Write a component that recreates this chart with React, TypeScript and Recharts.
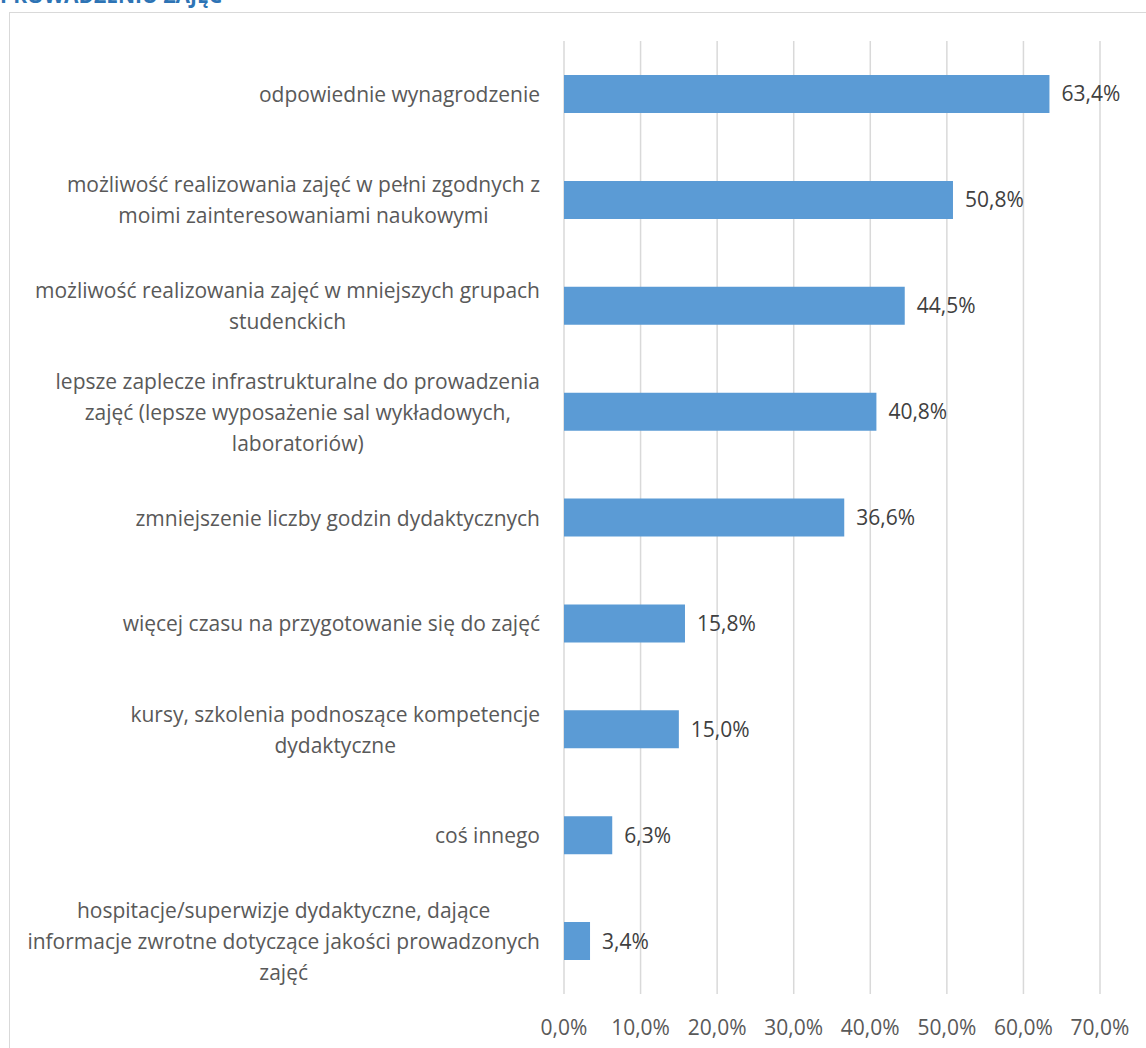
import { BarChart, Bar, XAxis, YAxis, CartesianGrid, LabelList } from 'recharts';

const categories = [
  'odpowiednie wynagrodzenie',
  'możliwość realizowania zajęć w pełni zgodnych z moimi zainteresowaniami naukowymi',
  'możliwość realizowania zajęć w mniejszych grupach studenckich',
  'lepsze zaplecze infrastrukturalne do prowadzenia zajęć (lepsze wyposażenie sal wykładowych, laboratoriów)',
  'zmniejszenie liczby godzin dydaktycznych',
  'więcej czasu na przygotowanie się do zajęć',
  'kursy, szkolenia podnoszące kompetencje dydaktyczne',
  'coś innego',
  'hospitacje/superwizje dydaktyczne, dające informacje zwrotne dotyczące jakości prowadzonych zajęć',
];

// how each category label is broken into lines
const categoryLines = [
  ['odpowiednie wynagrodzenie'],
  ['możliwość realizowania zajęć w pełni zgodnych z', 'moimi zainteresowaniami naukowymi'],
  ['możliwość realizowania zajęć w mniejszych grupach', 'studenckich'],
  ['lepsze zaplecze infrastrukturalne do prowadzenia', 'zajęć (lepsze wyposażenie sal wykładowych,', 'laboratoriów)'],
  ['zmniejszenie liczby godzin dydaktycznych'],
  ['więcej czasu na przygotowanie się do zajęć'],
  ['kursy, szkolenia podnoszące kompetencje', 'dydaktyczne'],
  ['coś innego'],
  ['hospitacje/superwizje dydaktyczne, dające', 'informacje zwrotne dotyczące jakości prowadzonych', 'zajęć'],
];

const values = [63.4, 50.8, 44.5, 40.8, 36.6, 15.8, 15.0, 6.3, 3.4];

const xTicks = [0, 10, 20, 30, 40, 50, 60, 70];

const FONT = '"Open Sans", "Noto Sans", sans-serif';
const FONT_SIZE = 21;
const LINE_H = 31;

const data = categories.map((name, i) => ({ name, value: values[i] }));

const fmt = (v: number) => `${v.toFixed(1).replace('.', ',')}%`;

let ctx: CanvasRenderingContext2D | null = null;
function measure(text: string): number {
  if (!ctx) ctx = document.createElement('canvas').getContext('2d');
  if (!ctx) return text.length * 10;
  ctx.font = `${FONT_SIZE}px ${FONT}`;
  return ctx.measureText(text).width;
}

function CategoryTick(props: any) {
  const { x, y, payload } = props;
  const idx = categories.indexOf(payload.value);
  const lines = categoryLines[idx] || [payload.value];
  const widest = Math.max(...lines.map(measure));
  const right = x - 16;
  const cx = right - widest / 2;
  const startY = y - ((lines.length - 1) * LINE_H) / 2;
  return (
    <text textAnchor="middle" fill="#595959" fontSize={FONT_SIZE} fontFamily={FONT}>
      {lines.map((l: string, i: number) => (
        <tspan key={i} x={cx} y={startY + i * LINE_H} dominantBaseline="central">
          {l}
        </tspan>
      ))}
    </text>
  );
}

function ValueTick(props: any) {
  const { x, y, payload } = props;
  return (
    <text x={x} y={y + 25} textAnchor="middle" dominantBaseline="central" fill="#595959" fontSize={FONT_SIZE} fontFamily={FONT}>
      {fmt(payload.value)}
    </text>
  );
}

export default function App() {
  return (
    <div style={{ position: 'absolute', left: 0, top: 0, width: 1146, height: 1048, overflow: 'hidden', background: '#fff' }}>
      <div
        style={{
          position: 'absolute',
          left: 0,
          top: -16,
          fontFamily: FONT,
          fontWeight: 700,
          fontSize: 21,
          lineHeight: '22px',
          color: '#2E74B5',
          whiteSpace: 'nowrap',
        }}
      >
        PROWADZENIU ZAJĘĆ
      </div>
      <div
        style={{
          position: 'absolute',
          left: 9,
          top: 12,
          width: 1160,
          height: 1060,
          border: '1px solid #D9D9D9',
        }}
      />
      <div style={{ position: 'absolute', left: 0, top: 0 }}>
        <BarChart
          width={1146}
          height={1048}
          data={data}
          layout="vertical"
          margin={{ top: 41, right: 46, bottom: 24, left: 0 }}
          barCategoryGap={0}
        >
          <CartesianGrid horizontal={false} stroke="#D9D9D9" strokeWidth={1.5} />
          <XAxis
            type="number"
            domain={[0, 70]}
            ticks={xTicks}
            interval={0}
            height={30}
            axisLine={false}
            tickLine={false}
            tick={<ValueTick />}
          />
          <YAxis
            type="category"
            dataKey="name"
            width={564}
            axisLine={false}
            tickLine={false}
            interval={0}
            tick={<CategoryTick />}
          />
          <Bar dataKey="value" fill="#5B9BD5" barSize={38} isAnimationActive={false}>
            <LabelList
              dataKey="value"
              position="right"
              offset={12}
              formatter={(v: any) => fmt(Number(v))}
              fill="#404040"
              fontSize={FONT_SIZE}
              fontFamily={FONT}
            />
          </Bar>
        </BarChart>
      </div>
    </div>
  );
}
